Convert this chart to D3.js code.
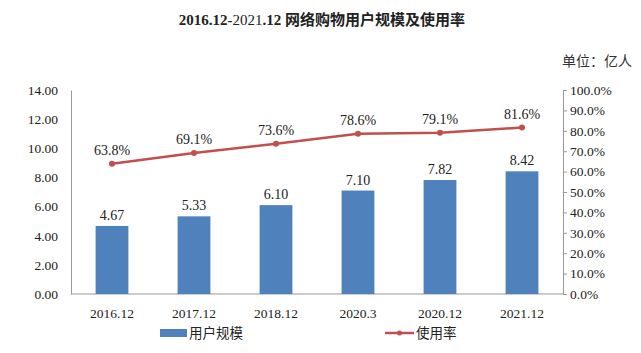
<!DOCTYPE html>
<html>
<head>
<meta charset="utf-8">
<script src="https://cdn.jsdelivr.net/npm/d3@7"></script>
<style>
  body { margin: 0; background: #fff; }
  svg text { fill: #222; }
</style>
</head>
<body>
<svg id="chart" width="641" height="353"></svg>
<script>
// data
var periods = ['2016.12', '2017.12', '2018.12', '2020.3', '2020.12', '2021.12'];
var users = [4.67, 5.33, 6.10, 7.10, 7.82, 8.42];
var rate = [63.8, 69.1, 73.6, 78.6, 79.1, 81.6];
var leftTicks = [0, 2, 4, 6, 8, 10, 12, 14];
var rightTicks = [0, 10, 20, 30, 40, 50, 60, 70, 80, 90, 100];

var serif = '"Liberation Serif", "Times New Roman", serif';
var cjk = '"Noto Sans CJK SC", sans-serif';

var svg = d3.select('#chart');
var plotLeft = 71, plotRight = 563, plotTop = 90, plotBottom = 294;

var x = d3.scaleBand().domain(periods).range([plotLeft, plotRight]).paddingInner(0.6).paddingOuter(0.3);
var yL = d3.scaleLinear().domain([0, 14]).range([plotBottom, plotTop]);
var yR = d3.scaleLinear().domain([0, 100]).range([plotBottom, plotTop]);

// title
var title = svg.append('text').attr('x', 322).attr('y', 25).attr('text-anchor', 'middle')
  .style('font-size', '15px');
title.append('tspan').text('2016.12-').style('font-family', serif).style('font-weight', 'bold');
title.append('tspan').text('2021').style('font-family', serif);
title.append('tspan').text('.12 ').style('font-family', serif).style('font-weight', 'bold');
title.append('tspan').text('网络购物用户规模及使用率').style('font-family', cjk).style('font-weight', 'bold');

svg.append('text').attr('x', 632).attr('y', 66).attr('text-anchor', 'end')
  .style('font-family', cjk).style('font-size', '14px').style('fill', '#333')
  .text('单位：亿人');

// left axis
var axL = svg.append('g').attr('transform', 'translate(' + plotLeft + ',0)')
  .call(d3.axisLeft(yL).tickValues(leftTicks).tickSize(0).tickPadding(13).tickFormat(d3.format('.2f')));
axL.select('.domain').attr('stroke', '#999');
axL.selectAll('text').style('font-family', serif).style('font-size', '13.5px').style('fill', '#222');

// right axis
var axR = svg.append('g').attr('transform', 'translate(' + plotRight + ',0)')
  .call(d3.axisRight(yR).tickValues(rightTicks).tickSize(4).tickSizeOuter(4).tickPadding(3)
    .tickFormat(function (d) { return d.toFixed(1) + '%'; }));
axR.select('.domain').attr('stroke', '#999');
axR.selectAll('line').attr('stroke', '#999');
axR.selectAll('text').style('font-family', serif).style('font-size', '13.5px').style('fill', '#222');

// x axis
svg.append('line').attr('x1', plotLeft).attr('x2', plotRight).attr('y1', plotBottom).attr('y2', plotBottom)
  .attr('stroke', '#999');
svg.append('g').selectAll('text').data(periods).enter().append('text')
  .attr('x', function (d) { return x(d) + x.bandwidth() / 2; })
  .attr('y', 318).attr('text-anchor', 'middle')
  .style('font-family', serif).style('font-size', '13.5px')
  .text(function (d) { return d; });

// bars
svg.append('g').selectAll('rect').data(users).enter().append('rect')
  .attr('x', function (d, i) { return x(periods[i]); })
  .attr('width', x.bandwidth())
  .attr('y', function (d) { return yL(d); })
  .attr('height', function (d) { return plotBottom - yL(d); })
  .attr('fill', '#4F81BD');
svg.append('g').selectAll('text').data(users).enter().append('text')
  .attr('x', function (d, i) { return x(periods[i]) + x.bandwidth() / 2; })
  .attr('y', function (d) { return yL(d) - 6; })
  .attr('text-anchor', 'middle')
  .style('font-family', serif).style('font-size', '14px')
  .text(function (d) { return d.toFixed(2); });

// line
var cx = function (d, i) { return x(periods[i]) + x.bandwidth() / 2; };
svg.append('path').datum(rate)
  .attr('d', d3.line().x(cx).y(function (d) { return yR(d); }))
  .attr('fill', 'none').attr('stroke', '#C0504D').attr('stroke-width', 2.5);
svg.append('g').selectAll('circle').data(rate).enter().append('circle')
  .attr('cx', cx).attr('cy', function (d) { return yR(d); }).attr('r', 3)
  .attr('fill', '#C0504D');
svg.append('g').selectAll('text').data(rate).enter().append('text')
  .attr('x', cx).attr('y', function (d) { return yR(d) - 9; })
  .attr('text-anchor', 'middle')
  .style('font-family', serif).style('font-size', '14px')
  .text(function (d) { return d.toFixed(1) + '%'; });

// legend
var lg = svg.append('g');
lg.append('rect').attr('x', 160).attr('y', 329).attr('width', 27).attr('height', 8).attr('fill', '#4F81BD');
lg.append('text').attr('x', 189).attr('y', 338).style('font-family', cjk).style('font-size', '13.5px').text('用户规模');
lg.append('line').attr('x1', 385).attr('x2', 414).attr('y1', 333).attr('y2', 333)
  .attr('stroke', '#C0504D').attr('stroke-width', 2.5);
lg.append('circle').attr('cx', 399.5).attr('cy', 333).attr('r', 2.5).attr('fill', '#C0504D');
lg.append('text').attr('x', 416).attr('y', 338).style('font-family', cjk).style('font-size', '13.5px').text('使用率');
</script>
</body>
</html>
